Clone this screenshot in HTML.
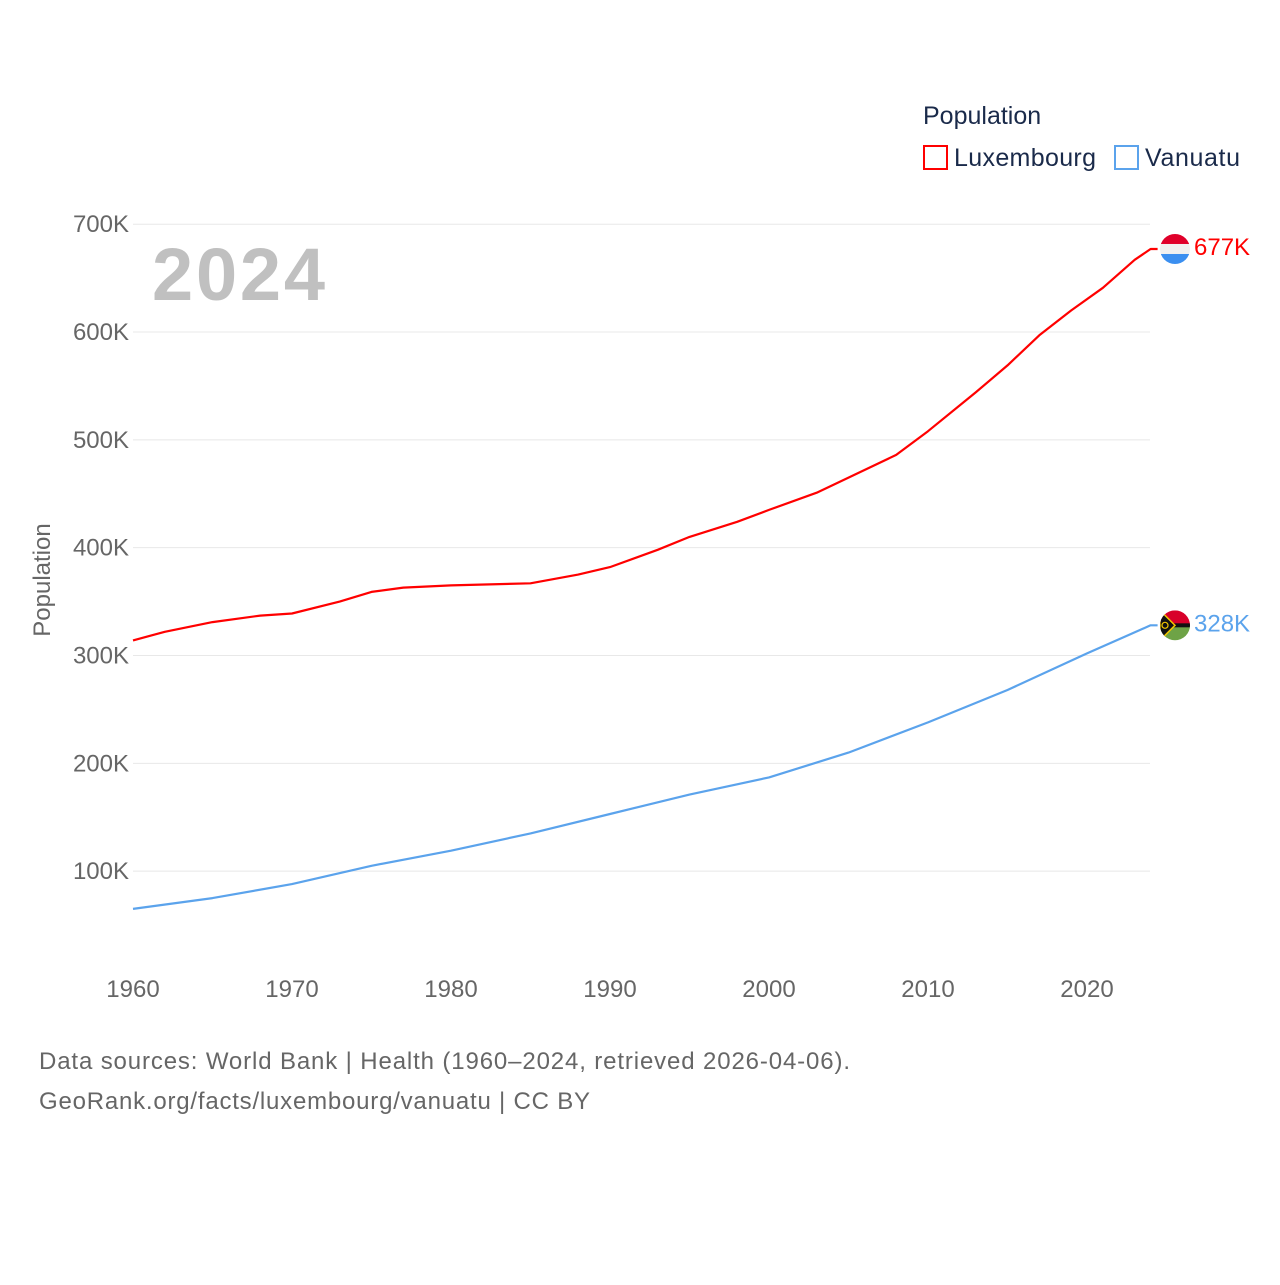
<!DOCTYPE html>
<html><head><meta charset="utf-8"><style>
body{margin:0;background:#fff;width:1280px;height:1280px;overflow:hidden;font-family:"Liberation Sans",sans-serif}
</style></head><body>
<svg id="chart" width="1280" height="1280" xmlns="http://www.w3.org/2000/svg" style="font-family:'Liberation Sans',sans-serif">
<text x="923" y="124" font-size="25" fill="#1a2a4a">Population</text>
<g><rect x="924" y="146" width="23" height="23" fill="none" stroke="#ff0000" stroke-width="2"/><text x="954" y="166" font-size="25" fill="#1a2a4a" textLength="142">Luxembourg</text></g>
<g><rect x="1115" y="146" width="23" height="23" fill="none" stroke="#5ba3ec" stroke-width="2"/><text x="1145" y="166" font-size="25" fill="#1a2a4a" textLength="95">Vanuatu</text></g>
<text x="152" y="300" font-size="74" font-weight="bold" fill="#c0c0c0" textLength="173">2024</text>
<text transform="translate(50,580) rotate(-90)" text-anchor="middle" font-size="24" fill="#666">Population</text>
<g id="grid"></g><g id="series"></g>
<text x="39" y="1069" font-size="24" fill="#666" textLength="811">Data sources: World Bank | Health (1960–2024, retrieved 2026-04-06).</text>
<text x="39" y="1109" font-size="24" fill="#666" textLength="551">GeoRank.org/facts/luxembourg/vanuatu | CC BY</text>
</svg>
<script>
const years=[1960,1962,1965,1968,1970,1973,1975,1977,1980,1985,1988,1990,1993,1995,1998,2000,2003,2005,2008,2010,2013,2015,2017,2019,2021,2023,2024];
const luxembourg=[314,322,331,337,339,350,359,363,365,367,375,382,398,410,424,435,451,465,486,508,544,569,597,620,641,667,677];
const vYears=[1960,1965,1970,1975,1980,1985,1990,1995,2000,2005,2010,2015,2020,2024];
const vanuatu=[65,75,88,105,119,135,153,171,187,210,238,268,302,328];
const yTicks=[100,200,300,400,500,600,700];
const xTicks=[1960,1970,1980,1990,2000,2010,2020];
const NS="http://www.w3.org/2000/svg";
const X=y=>133+(y-1960)*15.9;
const Y=v=>979-v*1.0783;
const grid=document.getElementById('grid'),ser=document.getElementById('series');
function mk(tag,attrs,parent){const e=document.createElementNS(NS,tag);for(const k in attrs)e.setAttribute(k,attrs[k]);parent.appendChild(e);return e;}
yTicks.forEach(t=>{
 const l=mk('line',{x1:133,x2:1150,y1:Y(t),y2:Y(t),stroke:'#e8e8e8','stroke-width':1},grid);
 
 
 const tx=mk('text',{x:129,y:Y(t)+8,'text-anchor':'end','font-size':24,fill:'#666'},grid);
 tx.textContent=t+'K';
 
 
});
xTicks.forEach(t=>{
 const tx=mk('text',{x:X(t),y:997,'text-anchor':'middle','font-size':24,fill:'#666'},grid);
 tx.textContent=t;
 
 
});
function line(xs,vs,color,name,label){
 let d=xs.map((y,i)=>(i?'L':'M')+X(y).toFixed(1)+','+Y(vs[i]).toFixed(1)).join(' ');
 const last=Y(vs[vs.length-1]);
 d+=' L'+(X(2024)+7)+','+last;
 const p=mk('path',{d:d,fill:'none',stroke:color,'stroke-width':2.2,'stroke-linejoin':'round'},ser);
 
 
 const t=mk('text',{x:1194,y:last+6,'font-size':24,fill:color},ser);
 t.textContent=label;
 
 
 return last;
}
const ly=line(years,luxembourg,'#ff0000','luxembourg',luxembourg[luxembourg.length-1]+'K');
const vy=line(vYears,vanuatu,'#5ba3ec','vanuatu',vanuatu[vanuatu.length-1]+'K');
const cx=1175,r=15;
const defs=mk('defs',{},ser);
const c1=mk('clipPath',{id:'c1'},defs);mk('circle',{cx:cx,cy:ly,r:r},c1);
const c2=mk('clipPath',{id:'c2'},defs);mk('circle',{cx:cx,cy:vy,r:r},c2);
const f1=mk('g',{'clip-path':'url(#c1)'},ser);


mk('rect',{x:cx-r,y:ly-r,width:30,height:10,fill:'#e0002a'},f1);
mk('rect',{x:cx-r,y:ly-5,width:30,height:10,fill:'#f0f0f0'},f1);
mk('rect',{x:cx-r,y:ly+5,width:30,height:10,fill:'#3b8ff0'},f1);
const f2=mk('g',{'clip-path':'url(#c2)'},ser);


mk('rect',{x:cx-r,y:vy-r,width:30,height:15,fill:'#d8002a'},f2);
mk('rect',{x:cx-r,y:vy,width:30,height:15,fill:'#6ea346'},f2);
mk('rect',{x:cx-r,y:vy-2,width:30,height:4,fill:'#111'},f2);
mk('polygon',{points:`${cx-r},${vy-r} ${cx},${vy} ${cx-r},${vy+r}`,fill:'#111',stroke:'#f2c500','stroke-width':1.5},f2);
mk('circle',{cx:cx-10,cy:vy,r:3,fill:'none',stroke:'#f2c500','stroke-width':1.2},f2);
</script>
</body></html>
